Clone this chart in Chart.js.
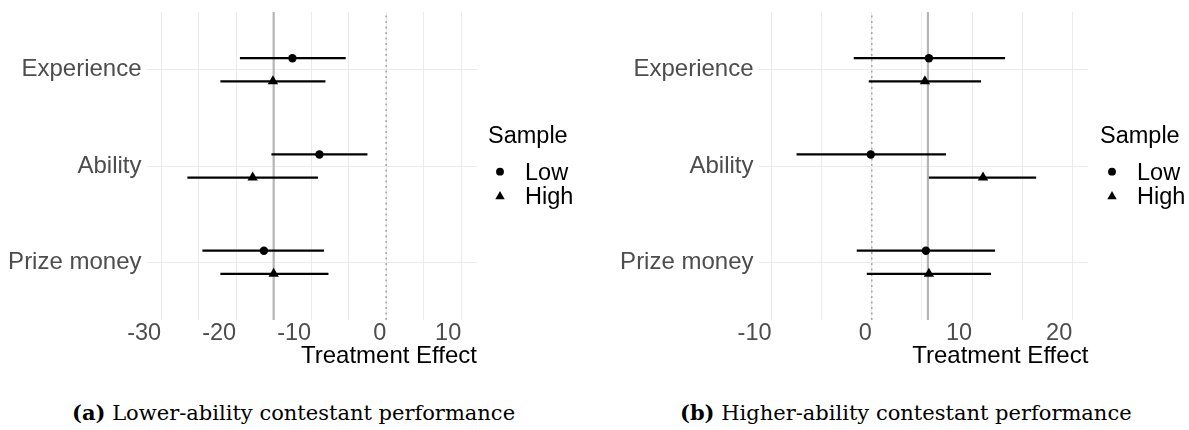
<!DOCTYPE html>
<html>
<head>
<meta charset="utf-8">
<title>Treatment effects</title>
<script src="https://cdn.jsdelivr.net/npm/chart.js@4.4.1/dist/chart.umd.min.js"></script>
<style>
  body { margin: 0; background: #fff; width: 1189px; height: 430px; position: relative; overflow: hidden;
         font-family: "Liberation Sans", Arial, sans-serif; }
  .panel { position: absolute; top: 0; height: 380px; }
  .lg { position: absolute; color: #000; font-size: 23.5px; line-height: 24px; white-space: nowrap; }
  .cap { position: absolute; top: 402px; font-family: "DejaVu Serif", serif; font-size: 21px; line-height: 21px;
         color: #000; white-space: nowrap; }
  .cap b { font-weight: bold; }
</style>
</head>
<body>

<div class="panel" style="left:0;width:600px"><canvas id="chart-a"></canvas></div>
<div class="panel" style="left:612px;width:577px"><canvas id="chart-b"></canvas></div>

<div class="lg" style="left:488px;top:123px">Sample</div>
<div class="lg" style="left:525px;top:160px">Low</div>
<div class="lg" style="left:525px;top:184px">High</div>
<svg style="position:absolute;left:488px;top:160px" width="24" height="44">
  <circle cx="12" cy="11.7" r="3.9" fill="#000"/>
  <polygon points="12,31 16.7,39.3 7.3,39.3" fill="#000"/>
</svg>

<div class="lg" style="left:1100px;top:123px">Sample</div>
<div class="lg" style="left:1137px;top:160px">Low</div>
<div class="lg" style="left:1137px;top:184px">High</div>
<svg style="position:absolute;left:1100px;top:160px" width="24" height="44">
  <circle cx="12" cy="11.7" r="3.9" fill="#000"/>
  <polygon points="12,31 16.7,39.3 7.3,39.3" fill="#000"/>
</svg>

<div class="cap" style="left:72px"><b>(a)</b> Lower-ability contestant performance</div>
<div class="cap" style="left:680px"><b>(b)</b> Higher-ability contestant performance</div>

<script>
// categories from top to bottom
const categories = ['Experience', 'Ability', 'Prize money'];

// (a) lower-ability contestants
const lowA   = [-12.5, -8.9, -16.3];
const lowALo = [-19.5, -15.3, -24.5];
const lowAHi = [-5.4, -2.5, -8.3];
const highA   = [-15.1, -17.8, -15.0];
const highALo = [-22.1, -26.5, -22.1];
const highAHi = [-8.1, -9.1, -7.7];
const meanA = -15.0;
const gridA = [-30, -25, -20, -15, -10, -5, 0, 5, 10];
const rangeA = [-31.95, 12.1];

// (b) higher-ability contestants
const lowB   = [5.7, -0.1, 5.4];
const lowBLo = [-1.8, -7.5, -1.5];
const lowBHi = [13.3, 7.4, 12.3];
const highB   = [5.3, 11.1, 5.7];
const highBLo = [-0.3, 5.7, -0.5];
const highBHi = [10.9, 16.4, 11.9];
const meanB = 5.6;
const gridB = [-10, -5, 0, 5, 10, 15, 20];
const rangeB = [-11.3, 21.6];

const dodge = 0.12;
const yRange = [-0.6, categories.length - 0.4];
const catY = i => categories.length - 1 - i;

function makeDatasets(low, lowLo, lowHi, high, highLo, highHi, mean) {
  const ds = [];
  // reference lines
  ds.push({ data: [{x: 0, y: yRange[0]}, {x: 0, y: yRange[1]}], showLine: true, pointRadius: 0,
            borderColor: '#a9a9a9', borderWidth: 1.6, borderDash: [2, 3.5], order: 5 });
  ds.push({ data: [{x: mean, y: yRange[0]}, {x: mean, y: yRange[1]}], showLine: true, pointRadius: 0,
            borderColor: '#b5b5b5', borderWidth: 2.2, order: 4 });
  // intervals
  categories.forEach((c, i) => {
    ds.push({ data: [{x: lowLo[i], y: catY(i) + dodge}, {x: lowHi[i], y: catY(i) + dodge}],
              showLine: true, pointRadius: 0, borderColor: '#000', borderWidth: 2.2, order: 3 });
    ds.push({ data: [{x: highLo[i], y: catY(i) - dodge}, {x: highHi[i], y: catY(i) - dodge}],
              showLine: true, pointRadius: 0, borderColor: '#000', borderWidth: 2.2, order: 3 });
  });
  // point estimates
  ds.push({ label: 'Low', data: low.map((v, i) => ({x: v, y: catY(i) + dodge})),
            pointStyle: 'circle', pointRadius: 4.2, backgroundColor: '#000', borderColor: '#000',
            borderWidth: 0, order: 1 });
  ds.push({ label: 'High', data: high.map((v, i) => ({x: v, y: catY(i) - dodge})),
            pointStyle: 'triangle', pointRadius: 6, backgroundColor: '#000', borderColor: '#000',
            borderWidth: 0, order: 1 });
  return ds;
}

function makeChart(id, datasets, range, grid, rightPad) {
  return new Chart(document.getElementById(id), {
    type: 'scatter',
    data: { datasets: datasets },
    options: {
      responsive: true,
      maintainAspectRatio: false,
      animation: false,
      events: [],
      layout: { padding: { left: 0, right: rightPad, top: 12, bottom: 0 } },
      plugins: { legend: { display: false }, tooltip: { enabled: false } },
      scales: {
        x: {
          type: 'linear', min: range[0], max: range[1],
          afterBuildTicks: s => { s.ticks = grid.map(v => ({value: v})); },
          afterFit: s => { s.height = 60; s.paddingLeft = 0; s.paddingRight = 0; },
          grid: { color: '#ebebeb', lineWidth: 1, drawTicks: false },
          border: { display: false },
          ticks: {
            autoSkip: false, maxRotation: 0, align: 'end', padding: -1,
            color: '#4d4d4d', font: { family: 'Liberation Sans', size: 23.5 },
            callback: v => (v % 10 === 0 ? String(v) : '')
          },
          title: {
            display: true, text: 'Treatment Effect', align: 'end', color: '#000',
            font: { family: 'Liberation Sans', size: 24 }, padding: { top: 0, bottom: 9 }
          }
        },
        y: {
          type: 'linear', min: yRange[0], max: yRange[1],
          afterBuildTicks: s => { s.ticks = categories.map((c, i) => ({value: catY(i)})); },
          afterFit: s => { s.width = 146.5; s.paddingTop = 0; s.paddingBottom = 0; },
          grid: { color: '#ebebeb', lineWidth: 1, drawTicks: false },
          border: { display: false },
          ticks: {
            autoSkip: false, padding: 5, color: '#4d4d4d',
            font: { family: 'Liberation Sans', size: 24 },
            callback: v => categories[categories.length - 1 - Math.round(v)]
          }
        }
      }
    }
  });
}

makeChart('chart-a', makeDatasets(lowA, lowALo, lowAHi, highA, highALo, highAHi, meanA), rangeA, gridA, 123);
makeChart('chart-b', makeDatasets(lowB, lowBLo, lowBHi, highB, highBLo, highBHi, meanB), rangeB, gridB, 100.7);
</script>
</body>
</html>
